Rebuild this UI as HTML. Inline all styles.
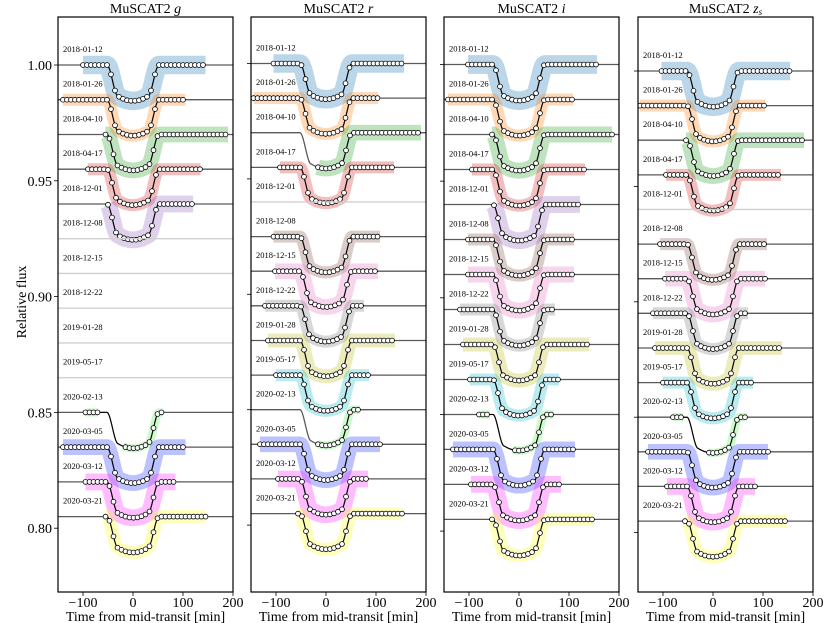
<!DOCTYPE html>
<html><head><meta charset="utf-8">
<style>
html,body{margin:0;padding:0;background:#fff;}
svg{display:block;font-family:"Liberation Serif",serif;}
</style></head>
<body>
<svg id="chart" width="830" height="623" viewBox="0 0 830 623" xmlns="http://www.w3.org/2000/svg">
<text x="26" y="302" font-size="14" text-anchor="middle" transform="rotate(-90 26 302)">Relative flux</text>
</svg>
<script>
const dates = ["2018-01-12","2018-01-26","2018-04-10","2018-04-17","2018-12-01","2018-12-08","2018-12-15","2018-12-22","2019-01-28","2019-05-17","2020-02-13","2020-03-05","2020-03-12","2020-03-21"];
const rowColors = ["#1f77b4","#ff7f0e","#2ca02c","#d62728","#9467bd","#8c564b","#e377c2","#7f7f7f","#bcbd22","#17becf","#55ee55","#2233ff","#ff22ff","#ffff22"];
const scatter = [0.0040,0.0026,0.0034,0.0026,0.0036,0.0026,0.0034,0.0026,0.003,0.0026,0.0018,0.0034,0.0036,0.0028];
const depth = [0.0155,0.0155,0.0155,0.0155,0.0155,0.0155,0.0155,0.0155,0.0155,0.0155,0.0155,0.0155,0.0155,0.0155];
const yTicks = [0.80,0.85,0.90,0.95,1.00];
const xTicks = [-100,0,100,200];

const gStart = [-100,-140,-55,-90,-50,null,null,null,null,null,-95,-140,-95,-55];
const gEnd   = [145,105,190,135,120,null,null,null,null,null,60,105,85,145];
const gGaps  = [[10,-70,-20]];
const rStart = [-105,-145,-16,-92,null,-105,-102,-122,-116,-100,-16,-132,-96,-56];
const rEnd   = [156,104,190,136,null,108,104,76,138,86,68,108,84,152];
const rGaps  = [];
const iStart = [-102,-142,-54,-94,-50,-102,-102,-118,-112,-98,-80,-132,-96,-54];
const iEnd   = [156,108,186,132,122,110,110,72,140,80,70,112,84,150];
const iGaps  = [[10,-58,-12]];
const zStart = [-103,-146,-54,-94,null,-106,-96,-120,-116,-100,-80,-130,-92,-56];
const zEnd   = [154,104,182,136,null,108,104,70,138,80,68,110,84,148];
const zGaps  = [[10,-60,-10]];

const NS="http://www.w3.org/2000/svg";
const svg=document.getElementById('chart');
function mk(tag,attrs,parent){const e=document.createElementNS(NS,tag);for(const k in attrs)e.setAttribute(k,attrs[k]);(parent||svg).appendChild(e);return e;}

function model(t,D){const a=Math.abs(t),T1=52,T2=30;
  if(a>=T1)return 0;
  if(a<=T2)return D*(0.87+0.13*(1-(a/T2)*(a/T2)));
  const u=(T1-a)/(T1-T2);return D*0.87*u*u*(3-2*u);}

const panels=[
 {name:"g",left:58,y1:65,k:2316,start:gStart,end:gEnd,gaps:gGaps,labels:true},
 {name:"r",left:251,y1:63.5,k:2308,start:rStart,end:rEnd,gaps:rGaps,labels:false},
 {name:"i",left:444,y1:64.5,k:2333,start:iStart,end:iEnd,gaps:iGaps,labels:false},
 {name:"zs",left:638,y1:71,k:2308,start:zStart,end:zEnd,gaps:zGaps,labels:false}
];
const TOP=17,BOT=592,W=175;

panels.forEach((p,pi)=>{
  const g=mk('g',{});
  
  
  const X=t=>p.left+(t+150)*W/350;
  const Y=f=>p.y1+(1-f)*p.k;
  const tt=mk('text',{x:p.left+W/2,y:13,'font-size':14,'text-anchor':'middle'},g);
  
  
  tt.appendChild(document.createTextNode('MuSCAT2 '));
  if(p.name==="zs"){const a=mk('tspan',{'font-style':'italic'},tt);a.textContent='z';const b=mk('tspan',{'font-style':'italic','font-size':9,dy:2},tt);b.textContent='s';}
  else{const a=mk('tspan',{'font-style':'italic'},tt);a.textContent=p.name;}
  const clipId='clip'+pi;
  const cp=mk('clipPath',{id:clipId},g);mk('rect',{x:p.left,y:TOP,width:W,height:BOT-TOP},cp);
  const inner=mk('g',{'clip-path':'url(#'+clipId+')'},g);
  dates.forEach((d,i)=>{
    const base=1-0.015*i;
    const s=p.start[i],e=p.end[i];
    if(s===null){
      const ln=mk('line',{x1:p.left,x2:p.left+W,y1:Y(base),y2:Y(base),stroke:'#cfcfcf','stroke-width':1.4},inner);
      
      
    } else {
    const gap=p.gaps.find(q=>q[0]===i);
    const inData=t=>t>=s&&t<=e&&!(gap&&t>gap[1]&&t<gap[2]);
    let pts=[];for(let t=-150;t<=200;t+=1)pts.push(X(t).toFixed(1)+','+Y(base-model(t,depth[i])).toFixed(1));
    const full=mk('polyline',{points:pts.join(' '),fill:'none',stroke:'#5a5a5a','stroke-width':1.3},inner);
    
    
    const segs=gap?[[s,gap[1]],[gap[2],e]]:[[s,e]];
    segs.forEach(sg=>{
      let bp=[];for(let t=sg[0];t<=sg[1];t+=1)bp.push(X(t).toFixed(1)+','+Y(base-model(t,depth[i])).toFixed(1));
      const band=mk('polyline',{points:bp.join(' '),fill:'none',stroke:rowColors[i],'stroke-opacity':0.3,'stroke-width':(2*scatter[i]*p.k).toFixed(1),'stroke-linecap':'butt','stroke-linejoin':'round'},inner);
      
      
    });
    let mp=[];for(let t=s;t<=e;t+=1)mp.push(X(t).toFixed(1)+','+Y(base-model(t,depth[i])).toFixed(1));
    const ml=mk('polyline',{points:mp.join(' '),fill:'none',stroke:'#000','stroke-width':1},inner);
    
    
    for(let t=s;t<=e+0.1;t+=8){
      if(!inData(t))continue;
      const c=mk('circle',{cx:X(t).toFixed(1),cy:Y(base-model(t,depth[i])).toFixed(1),r:2.4,fill:'#fff',stroke:'#000','stroke-width':0.8},inner);
      
      
    }
    }
    const lab=mk('text',{x:p.left+5,y:Y(base)-13,'font-size':8.5},inner);
    
    
    lab.textContent=d;
  });
  const fr=mk('rect',{x:p.left,y:TOP,width:W,height:BOT-TOP,fill:'none',stroke:'#000','stroke-width':1.2},g);
  
  
  yTicks.forEach(v=>{
    const y=Y(v);
    const tk=mk('line',{x1:p.left-4,x2:p.left,y1:y,y2:y,stroke:'#000','stroke-width':0.8},g);
    
    
    if(p.labels){
      const tl=mk('text',{x:p.left-6,y:y+5,'font-size':14,'text-anchor':'end'},g);
      
      
      tl.textContent=v.toFixed(2);
    }
  });
  xTicks.forEach(v=>{
    const x=X(v);
    const tk=mk('line',{x1:x,x2:x,y1:BOT,y2:BOT+4,stroke:'#000','stroke-width':0.8},g);
    
    
    const tl=mk('text',{x:x,y:BOT+15,'font-size':14,'text-anchor':'middle'},g);
    
    
    tl.textContent=v<0?'\u2212'+Math.abs(v):String(v);
  });
  const xt=mk('text',{x:p.left+W/2,y:BOT+29,'font-size':14,'text-anchor':'middle'},g);
  
  
  xt.textContent='Time from mid-transit [min]';
});
</script>
</body></html>
